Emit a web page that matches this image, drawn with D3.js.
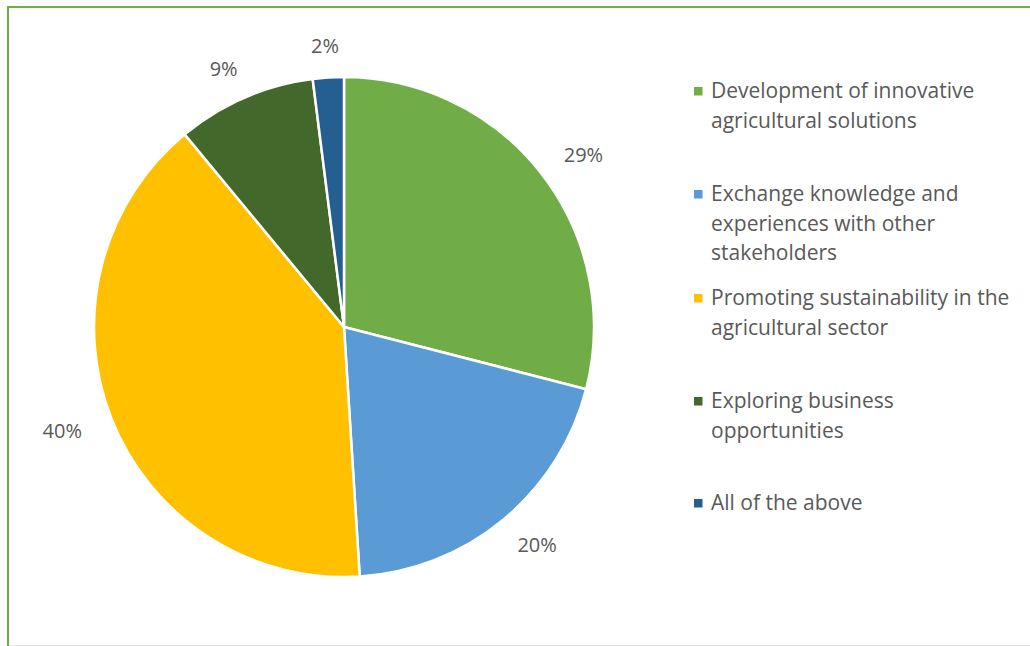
<!DOCTYPE html>
<html>
<head>
<meta charset="utf-8">
<script src="https://cdn.jsdelivr.net/npm/d3@7"></script>
<style>
  html, body { margin: 0; padding: 0; background: #fff; }
  svg { display: block; }
  text { font-family: "Open Sans", Lato, sans-serif; fill: #595959; }
</style>
</head>
<body>
<svg id="chart" width="1030" height="646"></svg>
<script>
// Reasons for participating
const categories = [
  "Development of innovative agricultural solutions",
  "Exchange knowledge and experiences with other stakeholders",
  "Promoting sustainability in the agricultural sector",
  "Exploring business opportunities",
  "All of the above"
];
const legendLines = [
  ["Development of innovative", "agricultural solutions"],
  ["Exchange knowledge and", "experiences with other", "stakeholders"],
  ["Promoting sustainability in the", "agricultural sector"],
  ["Exploring business", "opportunities"],
  ["All of the above"]
];
const values = [29, 20, 40, 9, 2];
const colors = ["#70AD47", "#5B9BD5", "#FFC000", "#43682B", "#255E91"];

const svg = d3.select("#chart");
const W = 1030, H = 646;

// frame
svg.append("line").attr("x1", 8).attr("x2", W).attr("y1", 7).attr("y2", 7)
  .attr("stroke", "#70AD47").attr("stroke-width", 2);
svg.append("line").attr("x1", 8).attr("x2", 8).attr("y1", 6).attr("y2", H)
  .attr("stroke", "#70AD47").attr("stroke-width", 2);
svg.append("line").attr("x1", 9).attr("x2", W).attr("y1", 645.5).attr("y2", 645.5)
  .attr("stroke", "#E6E6E6").attr("stroke-width", 1);

const cx = 344, cy = 327, R = 250;
const data = categories.map((c, i) => ({ name: c, value: values[i], color: colors[i] }));
const pie = d3.pie().value(d => d.value).sort(null);
const arc = d3.arc().innerRadius(0).outerRadius(R);

const g = svg.append("g").attr("transform", `translate(${cx},${cy})`);
const arcs = pie(data);
g.selectAll("path.slice").data(arcs).join("path")
  .attr("class", "slice")
  .attr("d", arc)
  .attr("fill", d => d.data.color)
  .attr("stroke", "#fff")
  .attr("stroke-width", 2.5)
  .attr("stroke-linejoin", "round");

// outside-end labels on an ellipse: wider gap at the sides than top/bottom
const labelRx = 303, labelRy = 282;
function labelPos(d) {
  const a = (d.startAngle + d.endAngle) / 2;
  return [Math.sin(a) * labelRx, -Math.cos(a) * labelRy];
}
g.selectAll("text.pct").data(arcs).join("text")
  .attr("class", "pct")
  .attr("transform", d => `translate(${labelPos(d)})`)
  .attr("text-anchor", "middle")
  .attr("dominant-baseline", "central")
  .attr("font-size", 20)
  .text(d => d.data.value + "%");

// legend
const legendBase = [98, 201, 305, 408, 510];
const lineH = 29.5;
const lg = svg.append("g");
legendLines.forEach((lines, i) => {
  lg.append("rect").attr("x", 694).attr("y", legendBase[i] - 11).attr("width", 8.5).attr("height", 8.5)
    .attr("fill", colors[i]);
  lines.forEach((t, j) => {
    lg.append("text").attr("x", 711).attr("y", legendBase[i] + j * lineH)
      .attr("font-size", 21)
      .text(t);
  });
});
</script>
</body>
</html>
